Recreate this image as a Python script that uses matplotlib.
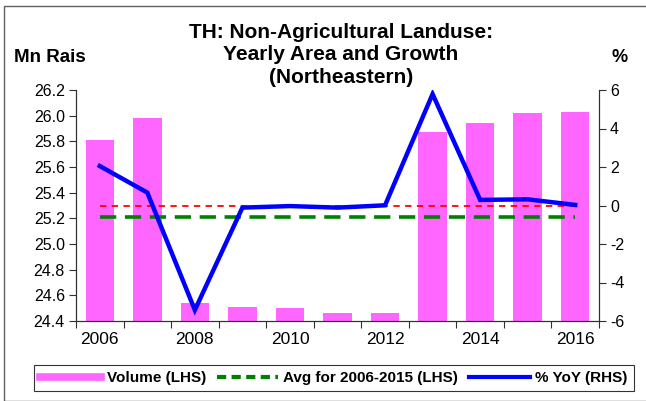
import numpy as np
import matplotlib.pyplot as plt
from matplotlib.lines import Line2D
from matplotlib.patches import Rectangle

plt.rcParams['font.family'] = ['Liberation Sans', 'DejaVu Sans']
plt.rcParams['axes.unicode_minus'] = False

years = [2006, 2007, 2008, 2009, 2010, 2011, 2012, 2013, 2014, 2015, 2016]
volume = [25.81, 25.98, 24.54, 24.51, 24.50, 24.46, 24.46, 25.875, 25.945, 26.02, 26.025]
yoy = [2.05, 0.67, -5.43, -0.11, -0.03, -0.11, 0.01, 5.79, 0.29, 0.32, 0.03]
avg_2006_2015 = 25.21
zero_ref = 0.0
year_labels = ['2006', '2008', '2010', '2012', '2014', '2016']

x = np.arange(len(years))

fig = plt.figure(figsize=(6.46, 4.01), dpi=100)
ax = fig.add_axes([76 / 646, 1 - 321 / 401, 523 / 646, 231 / 401])
ax2 = ax.twinx()

ax.bar(x, volume, width=0.6, color='#FF66FF', zorder=2)
ax.plot(x, [avg_2006_2015] * len(x), color='#008000', lw=2.6,
        dashes=(4.5, 2.4), zorder=3)
ax2.plot(x, [zero_ref] * len(x), color='#FF0000', lw=1.3, dashes=(3.5, 3))
ax2.plot(x, yoy, color='#0000FF', lw=3.2, solid_joinstyle='miter')

ax.set_xlim(-0.5, 10.5)
ax.set_ylim(24.4, 26.2)
ax.set_yticks(np.arange(24.4, 26.21, 0.2))
ax.set_yticklabels([f'{v:.1f}' for v in np.arange(24.4, 26.21, 0.2)])
ax2.set_ylim(-6, 6)
ax2.set_yticks(range(-6, 7, 2))

ax.set_xticks(x[::2])
ax.set_xticklabels(year_labels)
ax.set_xticks(np.arange(-0.5, 10.6, 1), minor=True)
ax.tick_params(axis='x', which='major', length=0, pad=8, labelsize=12.5)
ax.tick_params(axis='x', which='minor', length=5, width=0.8, color='#303030')
ax.tick_params(axis='y', length=5, width=0.8, color='#303030', labelsize=11.5, pad=3)
ax2.tick_params(axis='y', length=5, width=0.8, color='#303030', labelsize=11.5, pad=3)

for a in (ax, ax2):
    a.spines['top'].set_visible(False)
    for s in ('left', 'right', 'bottom'):
        a.spines[s].set_color('#303030')
        a.spines[s].set_linewidth(0.8)

fig.text(341 / 646, 1 - 55 / 401,
         'TH: Non-Agricultural Landuse:\nYearly Area and Growth\n(Northeastern)',
         ha='center', va='center', fontsize=15, fontweight='bold', linespacing=1.25)
fig.text(14 / 646, 1 - 58 / 401, 'Mn Rais', ha='left', va='center',
         fontsize=13.5, fontweight='bold')
fig.text(620 / 646, 1 - 58 / 401, '%', ha='center', va='center',
         fontsize=13, fontweight='bold')

handles = [
    Line2D([], [], color='#FF66FF', lw=5.5),
    Line2D([], [], color='#008000', lw=3, dashes=(2.2, 1.3)),
    Line2D([], [], color='#0000FF', lw=3),
]
labels = ['Volume (LHS)', 'Avg for 2006-2015 (LHS)', '% YoY (RHS)']
leg = fig.legend(handles, labels, loc='center', ncol=3,
                 bbox_to_anchor=(334 / 646, 1 - 378 / 401),
                 prop={'weight': 'bold', 'size': 11}, frameon=True,
                 fancybox=False, edgecolor='black', handlelength=4.0,
                 columnspacing=0.7, handletextpad=0.35, borderpad=0.4)
leg.get_frame().set_linewidth(0.8)

fig.patches.append(Rectangle((4 / 646, 0), 1, 1 - 6 / 401, transform=fig.transFigure,
                             fill=False, edgecolor='#606060', lw=1))

fig.savefig('out.png', dpi=100)
